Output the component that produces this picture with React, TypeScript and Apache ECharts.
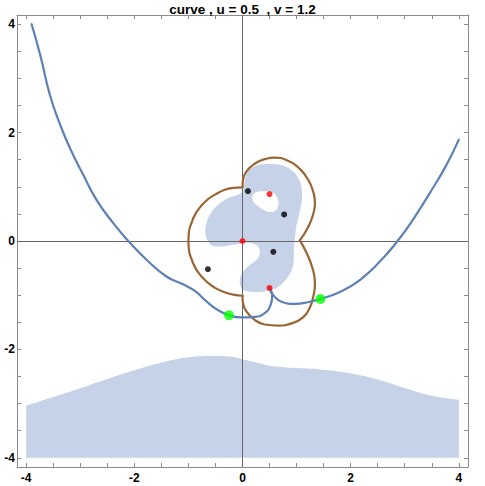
import React, { useEffect, useRef } from 'react';
import * as echarts from 'echarts';

const titleText = 'curve , u = 0.5  , v = 1.2';
const tickValues = [-4, -3.5, -3, -2.5, -2, -1.5, -1, -0.5, 0, 0.5, 1, 1.5, 2, 2.5, 3, 3.5, 4];
const labelValues = [-4, -2, 0, 2, 4];

const blueCurveLeft = [
  [-3.90, 4.00], [-3.74, 3.43], [-3.56, 2.69], [-3.37, 2.14], [-3.19, 1.71], [-2.95, 1.23],
  [-2.70, 0.76], [-2.39, 0.33], [-2.11, 0.0], [-1.77, -0.35], [-1.40, -0.66], [-1.10, -0.80],
  [-0.88, -0.92], [-0.67, -1.11], [-0.48, -1.26], [-0.25, -1.37], [-0.02, -1.41], [0.23, -1.40],
  [0.41, -1.33], [0.52, -1.18], [0.55, -1.00], [0.50, -0.87],
];
const blueCurveRight = [
  [0.50, -0.87], [0.57, -1.00], [0.72, -1.12], [0.97, -1.16], [1.21, -1.13], [1.44, -1.07],
  [1.80, -0.94], [2.17, -0.72], [2.54, -0.38], [2.86, -0.01], [3.15, 0.39], [3.46, 0.88],
  [3.77, 1.40], [4.0, 1.87],
];

const brownLeftLobe = [
  [0.0, 0.99], [-0.17, 0.98], [-0.34, 0.94], [-0.50, 0.86], [-0.64, 0.77], [-0.77, 0.64],
  [-0.87, 0.50], [-0.94, 0.34], [-0.99, 0.17], [-1.0, 0.0], [-0.99, -0.17], [-0.94, -0.34],
  [-0.87, -0.50], [-0.77, -0.64], [-0.64, -0.77], [-0.50, -0.87], [-0.34, -0.94],
  [-0.17, -0.99], [0.0, -1.01],
];
const brownTopLobe = [
  [0.0, 0.99], [0.01, 1.13], [0.07, 1.28], [0.23, 1.43], [0.41, 1.51], [0.60, 1.54],
  [0.84, 1.48], [1.06, 1.33], [1.22, 1.12], [1.31, 0.90], [1.34, 0.70], [1.30, 0.47],
  [1.21, 0.25], [1.06, 0.01],
];
const brownBottomLobe = [
  [1.06, 0.01], [1.19, -0.23], [1.30, -0.52], [1.34, -0.78], [1.31, -1.02], [1.24, -1.24],
  [1.12, -1.41], [0.91, -1.52], [0.66, -1.56], [0.41, -1.54], [0.23, -1.46], [0.07, -1.30],
  [0.01, -1.15], [0.0, -1.01],
];

const blobOutline = [
  [0.10, 1.29], [0.29, 1.40], [0.54, 1.42], [0.78, 1.38], [0.97, 1.25], [1.08, 1.04],
  [1.10, 0.79], [1.06, 0.55], [1.00, 0.30], [0.97, 0.06], [0.95, -0.19], [0.94, -0.44],
  [0.87, -0.62], [0.75, -0.77], [0.60, -0.88], [0.41, -0.93], [0.20, -0.94], [0.01, -0.90],
  [-0.05, -0.77], [-0.02, -0.62], [0.10, -0.47], [0.26, -0.35], [0.32, -0.22], [0.29, -0.10],
  [0.17, -0.04], [0.01, -0.04], [-0.17, -0.07], [-0.39, -0.10], [-0.57, -0.08], [-0.67, 0.06],
  [-0.68, 0.27], [-0.60, 0.49], [-0.45, 0.67], [-0.27, 0.79], [-0.02, 0.89], [0.03, 1.04],
  [0.06, 1.19],
];
const blobHole = [
  [0.18, 0.81], [0.23, 0.89], [0.38, 0.92], [0.57, 0.89], [0.66, 0.76], [0.65, 0.61],
  [0.57, 0.54], [0.44, 0.55], [0.29, 0.64], [0.20, 0.73],
];

const bottomRegionTop = [
  [-4.0, -3.04], [-3.50, -2.88], [-3.01, -2.72], [-2.51, -2.55], [-2.02, -2.39], [-1.53, -2.25],
  [-1.04, -2.15], [-0.54, -2.12], [-0.23, -2.13], [0.0, -2.18], [0.20, -2.23], [0.50, -2.30],
  [0.94, -2.34], [1.43, -2.37], [1.98, -2.44], [2.48, -2.55], [3.03, -2.72], [3.52, -2.86],
  [4.0, -2.93],
];
const bottomRegionBase = -4;

const blackPoints = [[0.10, 0.92], [0.77, 0.49], [0.57, -0.20], [-0.64, -0.52]];
const redPoints = [[0.50, 0.866], [0.0, 0.0], [0.50, -0.866]];
const greenPoints = [[-0.25, -1.37], [1.44, -1.07]];

const FONT = '"Liberation Sans", Arial, sans-serif';
const FRAME = '#8a8a8a';
const BLUE = '#5e81b5';
const BROWN = '#996633';
const FILL = '#c5d2e7';

function axis(position: string, withLabels: boolean) {
  return {
    type: 'value',
    position,
    min: -4.17,
    max: 4.17,
    axisLine: { show: true, onZero: false, lineStyle: { color: FRAME, width: 1 } },
    axisTick: { show: true, inside: true, length: 4, customValues: tickValues, lineStyle: { color: FRAME, width: 1 } },
    axisLabel: {
      show: withLabels,
      customValues: labelValues,
      margin: position === 'left' ? 2 : 5,
      fontFamily: FONT,
      fontWeight: 'bold',
      fontSize: 12,
      color: '#000',
    },
    splitLine: { show: false },
  };
}

function polygonSeries(pts: number[][], fill: string, z: number, smooth: number) {
  return {
    type: 'custom',
    xAxisIndex: 0,
    yAxisIndex: 0,
    silent: true,
    z,
    data: [pts[0]],
    renderItem: (_params: any, api: any) => ({
      type: 'polygon',
      shape: { points: pts.map((p) => api.coord(p)), smooth },
      style: { fill, stroke: 'none' },
    }),
  };
}

function curveSeries(pts: number[][], color: string, z: number) {
  return {
    type: 'line',
    xAxisIndex: 0,
    yAxisIndex: 0,
    data: pts,
    smooth: 0.5,
    showSymbol: false,
    silent: true,
    lineStyle: { color, width: 2.2, cap: 'round', join: 'round' },
    z,
  };
}

export default function App() {
  const ref = useRef<HTMLDivElement>(null);
  useEffect(() => {
    if (!ref.current) return;
    const chart = echarts.init(ref.current, null, { renderer: 'svg' });
    chart.setOption({
      animation: false,
      backgroundColor: '#fff',
      title: {
        text: titleText,
        left: 'center',
        top: 2,
        padding: 0,
        textStyle: { fontFamily: FONT, fontWeight: 'bold', fontSize: 13.5, color: '#000' },
      },
      grid: { left: 17, right: 17, top: 15, bottom: 19, containLabel: false },
      xAxis: [axis('bottom', true), axis('top', false)],
      yAxis: [axis('left', true), axis('right', false)],
      series: [
        {
          type: 'line',
          xAxisIndex: 0,
          yAxisIndex: 0,
          data: bottomRegionTop,
          smooth: 0.4,
          showSymbol: false,
          silent: true,
          lineStyle: { width: 0, opacity: 0 },
          areaStyle: { color: FILL, opacity: 1, origin: bottomRegionBase },
          z: 1,
        },
        polygonSeries(blobOutline, FILL, 2, 0.35),
        polygonSeries(blobHole, '#ffffff', 3, 0.35),
        {
          type: 'line',
          xAxisIndex: 0,
          yAxisIndex: 0,
          data: [[0, 0]],
          showSymbol: false,
          silent: true,
          z: 4,
          markLine: {
            silent: true,
            z: 4,
            symbol: ['none', 'none'],
            label: { show: false },
            lineStyle: { color: '#666', width: 1, type: 'solid' },
            data: [{ xAxis: 0 }, { yAxis: 0 }],
          },
        },
        curveSeries(brownLeftLobe, BROWN, 5),
        curveSeries(brownTopLobe, BROWN, 5),
        curveSeries(brownBottomLobe, BROWN, 5),
        curveSeries(blueCurveLeft, BLUE, 6),
        curveSeries(blueCurveRight, BLUE, 6),
        { type: 'scatter', data: blackPoints, symbolSize: 6, itemStyle: { color: '#000' }, silent: true, z: 7 },
        { type: 'scatter', data: redPoints, symbolSize: 6, itemStyle: { color: '#ff0000' }, silent: true, z: 7 },
        { type: 'scatter', data: greenPoints, symbolSize: 10, itemStyle: { color: '#00ff00' }, silent: true, z: 7 },
      ],
    });
    return () => chart.dispose();
  }, []);
  return <div ref={ref} style={{ position: 'fixed', left: 0, top: 0, width: 485, height: 486 }} />;
}
